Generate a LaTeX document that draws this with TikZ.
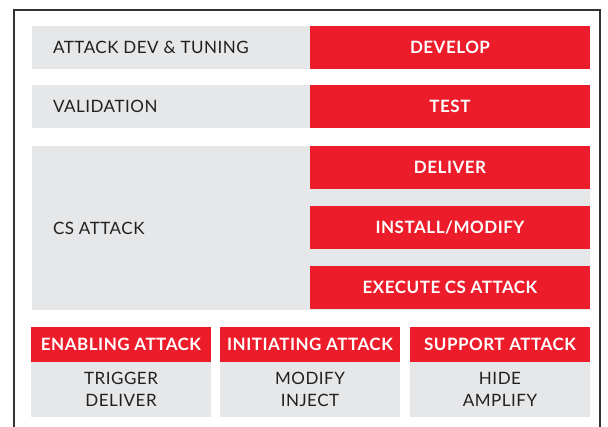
\documentclass[tikz,border=0pt]{standalone}
\usepackage{fontspec}
\setmainfont{Lato}[LetterSpace=3]
\usetikzlibrary{positioning}
\definecolor{atkred}{HTML}{ED1C2A}
\definecolor{atkgray}{HTML}{E6E7E8}
\definecolor{atkink}{HTML}{231F20}
\definecolor{atkframe}{HTML}{333333}

\begin{document}
\begin{tikzpicture}[x=1pt,y=-1pt]
\tikzstyle{every node}+=[inner sep=0pt, outer sep=0pt]
\tikzstyle{graybox}=[fill=atkgray, anchor=north west]
\tikzstyle{redbox}=[fill=atkred, anchor=north west, text=white, font=\fontsize{17}{19}\selectfont\bfseries]
\tikzstyle{rowtext}=[text=atkink, font=\fontsize{17}{19}\selectfont]
\tikzstyle{cardtext}=[text=atkink, font=\fontsize{17}{22}\selectfont, align=center]
\useasboundingbox (0,0) rectangle (608,427);
% outer frame, cut off at the bottom
\draw [atkframe, line width=2.5pt] (14,427) -- (14,10) -- (600,10) -- (600,427);
% rows
\node [graybox, minimum width=278pt, minimum height=43pt] (devrow) at (32,26) {};
\node [redbox, minimum width=280pt, minimum height=43pt] (develop) at (310,26) {DEVELOP};
\node [rowtext, right=21pt of devrow.west, anchor=west] (devlabel) {ATTACK DEV \& TUNING};
\node [graybox, minimum width=278pt, minimum height=43pt] (valrow) at (32,85) {};
\node [redbox, minimum width=280pt, minimum height=43pt] (test) at (310,85) {TEST};
\node [rowtext, right=21pt of valrow.west, anchor=west] (vallabel) {VALIDATION};
\node [graybox, minimum width=558pt, minimum height=164pt] (csrow) at (32,146) {};
\node [redbox, minimum width=280pt, minimum height=43pt] (deliver) at (310,146) {DELIVER};
\node [redbox, minimum width=280pt, minimum height=43pt] (install) at (310,206) {INSTALL/MODIFY};
\node [redbox, minimum width=280pt, minimum height=43pt] (execute) at (310,266) {EXECUTE CS ATTACK};
\node [rowtext, right=21pt of csrow.west, anchor=west] (cslabel) {CS ATTACK};
% attack cards
\node [redbox, minimum width=180pt, minimum height=35pt] (enabling) at (31,327) {ENABLING ATTACK};
\node [graybox, minimum width=180pt, minimum height=55pt, below=0pt of enabling.south west, anchor=north west] (enablingbody) {};
\node [cardtext] at (enablingbody) {TRIGGER\\DELIVER};
\node [redbox, minimum width=180pt, minimum height=35pt] (initiating) at (220,327) {INITIATING ATTACK};
\node [graybox, minimum width=180pt, minimum height=55pt, below=0pt of initiating.south west, anchor=north west] (initiatingbody) {};
\node [cardtext] at (initiatingbody) {MODIFY\\INJECT};
\node [redbox, minimum width=180pt, minimum height=35pt] (support) at (410,327) {SUPPORT ATTACK};
\node [graybox, minimum width=180pt, minimum height=55pt, below=0pt of support.south west, anchor=north west] (supportbody) {};
\node [cardtext] at (supportbody) {HIDE\\AMPLIFY};
\end{tikzpicture}
\end{document}
